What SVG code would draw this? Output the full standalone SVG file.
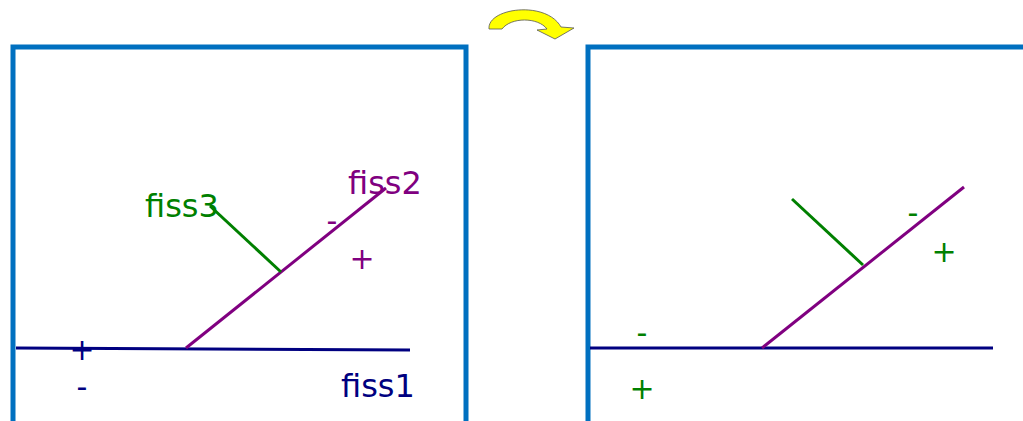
<svg xmlns="http://www.w3.org/2000/svg" width="1023" height="421" viewBox="0 0 1023 421">
<style>
.frame{fill:none;stroke:#0070C0;stroke-width:5}
.f1{stroke:#000080;stroke-width:3;fill:none}
.f2{stroke:#800080;stroke-width:3;fill:none}
.f3{stroke:#008000;stroke-width:3;fill:none}
text{font-family:"DejaVu Sans",sans-serif;font-size:32px}
.sg{font-size:30px}
.navy{fill:#000080}.purple{fill:#800080}.green{fill:#008000}
</style>
<rect width="1023" height="421" fill="#fff"/>
<g id="arrow">
<path d="M489,29 C487,8 546,0 561,27 L574,28 L555,39 L537,30 L547,29 C538,17 511,17 502,29 Z" fill="#FFFF00" stroke="#555" stroke-width="0.8"/>
</g>
<g id="left-panel">
<path class="frame" d="M13,421 V47 H466 V421"/>
</g>
<g id="right-panel">
<path class="frame" d="M588,421 V47 H1025"/>
</g>
<g id="connectors">
<line class="f1" x1="16" y1="348" x2="410" y2="350"/>
<line class="f2" x1="186" y1="348" x2="386" y2="188"/>
<line class="f3" x1="210" y1="206" x2="281" y2="272"/>
<line class="f1" x1="590" y1="348" x2="993" y2="348"/>
<line class="f2" x1="762" y1="348" x2="964" y2="187"/>
<line class="f3" x1="792" y1="199" x2="863" y2="265"/>
</g>
<g id="labels-left">
<text class="green" x="145" y="217">fiss3</text>
<text class="purple" x="348" y="194">fiss2</text>
<text class="navy" x="341" y="397">fiss1</text>
<text class="navy sg" x="82" y="360" text-anchor="middle">+</text>
<text class="navy sg" x="82" y="397" text-anchor="middle">-</text>
<text class="purple sg" x="332" y="231" text-anchor="middle">-</text>
<text class="purple sg" x="362" y="269" text-anchor="middle">+</text>
</g>
<g id="labels-right">
<text class="green sg" x="913" y="223" text-anchor="middle">-</text>
<text class="green sg" x="944" y="262" text-anchor="middle">+</text>
<text class="green sg" x="642" y="343" text-anchor="middle">-</text>
<text class="green sg" x="642" y="399" text-anchor="middle">+</text>
</g>
</svg>
